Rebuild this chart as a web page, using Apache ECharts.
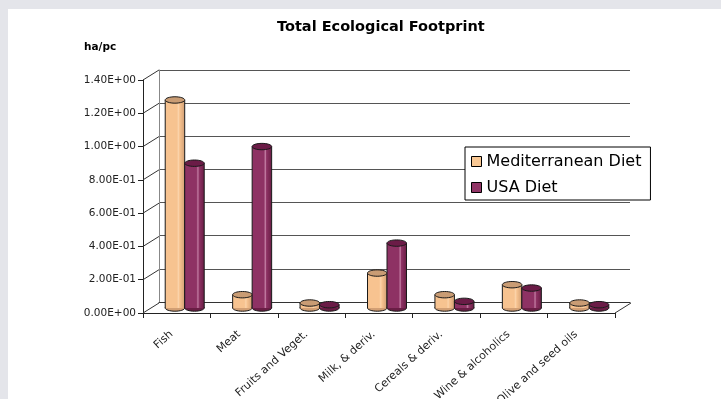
<!DOCTYPE html>
<html>
<head>
<meta charset="utf-8">
<script src="https://cdn.jsdelivr.net/npm/echarts@6/dist/echarts.min.js"></script>
<style>
  html, body { margin: 0; padding: 0; background: #e4e5ea; width: 721px; height: 399px; overflow: hidden; }
  #main { position: absolute; left: 8px; top: 9px; width: 713px; height: 390px; background: #fff; }
</style>
</head>
<body>
<div id="main"></div>
<script>
const categories = ["Fish", "Meat", "Fruits and Veget.", "Milk, & deriv.", "Cereals & deriv.", "Wine & alcoholics", "Olive and seed oils"]
const mediterranean = [1.25, 0.08, 0.03, 0.21, 0.08, 0.14, 0.03]
const usa = [0.87, 0.97, 0.02, 0.39, 0.04, 0.12, 0.02]
const yTickLabels = ["0.00E+00", "2.00E-01", "4.00E-01", "6.00E-01", "8.00E-01", "1.00E+00", "1.20E+00", "1.40E+00"]

const FONT = "DejaVu Sans"

// 3D box: front plane, back wall, bars sit half way
const front = { left: 135, top: 71, width: 472, height: 233 }
const depth = [16, -10]
const back = { left: front.left + depth[0], top: front.top + depth[1], width: front.width - 1, height: front.height - 1 }
const mid = { left: front.left + depth[0] / 2, top: front.top + depth[1] / 2, width: front.width, height: front.height }

const chart = echarts.init(document.getElementById("main"))

const palette = [
  { body: "#f7c390", dark: "#d29f74", hi: "#fbd3aa", top: "#c99c74" },
  { body: "#8e3264", dark: "#6a1e45", hi: "#c27ca2", top: "#6b1c47" },
]

function cylinder(si) {
  return function (params, api) {
    const v = api.value(1)
    const base = api.coord([api.value(0), 0])
    const top = api.coord([api.value(0), v])
    const w = 19.5
    const cx = base[0] + (si === 0 ? -w / 2 : w / 2)
    const x0 = cx - w / 2
    const ry = 3.2
    const c = palette[si]
    const grad = new echarts.graphic.LinearGradient(0, 0, 1, 0, [
      { offset: 0, color: c.body },
      { offset: 0.6, color: c.body },
      { offset: 0.68, color: c.hi },
      { offset: 0.74, color: c.body },
      { offset: 1, color: c.dark },
    ])
    const line = { stroke: "#1a1a1a", lineWidth: 1 }
    return {
      type: "group",
      children: [
        { type: "ellipse", shape: { cx: cx, cy: base[1], rx: w / 2, ry: ry }, style: Object.assign({ fill: c.dark }, line) },
        { type: "rect", shape: { x: x0, y: top[1], width: w, height: base[1] - top[1] }, style: { fill: grad } },
        { type: "line", shape: { x1: x0, y1: top[1], x2: x0, y2: base[1] }, style: line },
        { type: "line", shape: { x1: x0 + w, y1: top[1], x2: x0 + w, y2: base[1] }, style: line },
        { type: "ellipse", shape: { cx: cx, cy: top[1], rx: w / 2, ry: ry }, style: Object.assign({ fill: c.top }, line) },
      ],
    }
  }
}

// left wall diagonals and floor edge
const deco = []
for (let i = 0; i < yTickLabels.length; i++) {
  const y = front.top + front.height - (i * front.height) / (yTickLabels.length - 1)
  deco.push({ type: "line", shape: { x1: front.left, y1: y, x2: front.left + depth[0], y2: y + depth[1] }, style: { stroke: "#333", lineWidth: 1 }, z: 5 })
}
const fr = front.left + front.width
const fb = front.top + front.height
deco.push({ type: "line", shape: { x1: fr, y1: fb, x2: fr + depth[0], y2: fb + depth[1] }, style: { stroke: "#333", lineWidth: 1 }, z: 5 })
deco.push({ type: "text", left: 76, top: 33, style: { text: "ha/pc", font: "bold 10.5px 'DejaVu Sans'", fill: "#000" } })

const noBounds = { outerBoundsMode: "none", containLabel: false }

chart.setOption({
  animation: false,
  title: {
    text: "Total Ecological Footprint",
    left: 269,
    top: 11,
    padding: 0,
    textStyle: { fontFamily: FONT, fontSize: 14.5, fontWeight: "bold", color: "#000" },
  },
  legend: {
    orient: "vertical",
    left: 457,
    top: 138,
    padding: [6, 9, 4, 6],
    itemGap: 9,
    itemWidth: 10,
    itemHeight: 10,
    icon: "rect",
    itemStyle: { borderColor: "#000", borderWidth: 1 },
    borderColor: "#000",
    borderWidth: 1,
    backgroundColor: "#fff",
    textStyle: { fontFamily: FONT, fontSize: 16, color: "#000", lineHeight: 17 },
    data: ["Mediterranean Diet", "USA Diet"],
    z: 20,
  },
  graphic: deco,
  grid: [
    Object.assign({}, back, noBounds),
    Object.assign({}, mid, noBounds),
    Object.assign({}, front, noBounds),
  ],
  xAxis: [
    { gridIndex: 0, type: "category", data: categories, axisLine: { show: true, lineStyle: { color: "#333" } }, axisTick: { show: false }, axisLabel: { show: false } },
    { gridIndex: 1, type: "category", data: categories, show: false },
    {
      gridIndex: 2,
      type: "category",
      data: categories,
      axisLine: { lineStyle: { color: "#222" } },
      axisTick: { show: true, length: 5, inside: false, lineStyle: { color: "#222" } },
      axisLabel: { rotate: 42, interval: 0, margin: 15, padding: [0, 7, 0, 0], fontFamily: FONT, fontSize: 11, color: "#222" },
    },
  ],
  yAxis: [
    {
      gridIndex: 0, type: "value", min: 0, max: 1.4, interval: 0.2,
      axisLine: { show: true, lineStyle: { color: "#888" } },
      axisTick: { show: false }, axisLabel: { show: false },
      splitLine: { lineStyle: { color: "#555", width: 1 } },
    },
    { gridIndex: 1, type: "value", min: 0, max: 1.4, interval: 0.2, show: false, splitLine: { show: false } },
    {
      gridIndex: 2, type: "value", min: 0, max: 1.4, interval: 0.2,
      axisLine: { show: true, lineStyle: { color: "#222" } },
      axisTick: { show: true, length: 5, lineStyle: { color: "#222" } },
      splitLine: { show: false },
      axisLabel: {
        margin: 7,
        fontFamily: FONT,
        fontSize: 10.5,
        color: "#222",
        formatter: (v, i) => yTickLabels[i],
      },
    },
  ],
  series: [
    {
      name: "Mediterranean Diet",
      type: "custom",
      xAxisIndex: 1,
      yAxisIndex: 1,
      itemStyle: { color: "#f9c894" },
      renderItem: cylinder(0),
      data: mediterranean.map((v, i) => [i, v]),
      z: 10,
    },
    {
      name: "USA Diet",
      type: "custom",
      xAxisIndex: 1,
      yAxisIndex: 1,
      itemStyle: { color: "#913566" },
      renderItem: cylinder(1),
      data: usa.map((v, i) => [i, v]),
      z: 10,
    },
  ],
})
</script>
</body>
</html>
